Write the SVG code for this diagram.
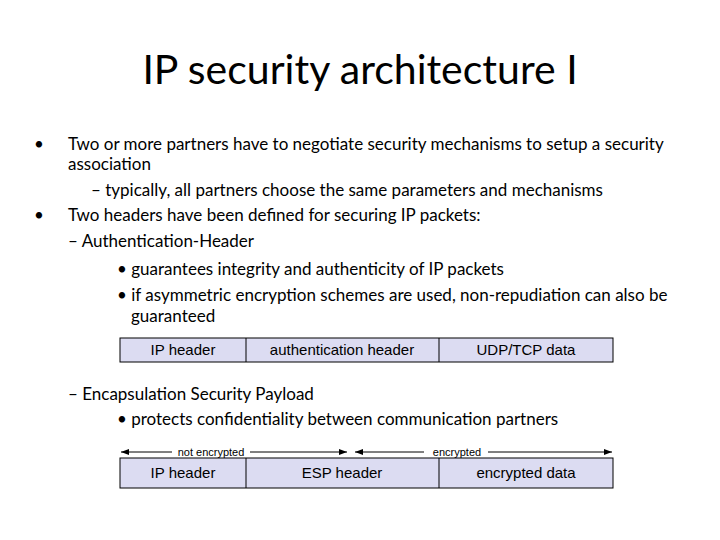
<svg xmlns="http://www.w3.org/2000/svg" width="720" height="540" viewBox="0 0 720 540">
<style>
.t{font-family:Lato,"Open Sans",sans-serif;font-size:17px;fill:#000}
.b{font-family:"Liberation Sans",Arial,sans-serif;font-size:15px;fill:#000}
.s{font-family:"Liberation Sans",Arial,sans-serif;font-size:11px;fill:#000}
.box{fill:#dcdcf2;stroke:#000;stroke-width:1}
.ln{stroke:#000;stroke-width:1;fill:none}
</style>
<defs><marker id="a" markerWidth="8" markerHeight="6" refX="8" refY="3" orient="auto-start-reverse"><path d="M0,0L8,3L0,6z" fill="#000"/></marker></defs>
<rect width="720" height="540" fill="#fff"/>
<text x="360" y="84" text-anchor="middle" font-family="Lato,'Open Sans',sans-serif" font-size="41">IP security architecture I</text>
<g id="text">
<text class="t" x="34" y="150">•</text>
<text class="t" x="68" y="150">Two or more partners have to negotiate security mechanisms to setup a security</text>
<text class="t" x="68" y="170">association</text>
<text class="t" x="91" y="196">– typically, all partners choose the same parameters and mechanisms</text>
<text class="t" x="34" y="221">•</text>
<text class="t" x="68" y="221">Two headers have been defined for securing IP packets:</text>
<text class="t" x="68" y="247">– Authentication-Header</text>
<text class="t" x="117" y="275">• guarantees integrity and authenticity of IP packets</text>
<text class="t" x="117" y="301">• if asymmetric encryption schemes are used, non-repudiation can also be</text>
<text class="t" x="131" y="322">guaranteed</text>
<text class="t" x="68" y="400">– Encapsulation Security Payload</text>
<text class="t" x="117" y="425">• protects confidentiality between communication partners</text>
</g>
<g id="ah-packet">
<rect class="box" x="120" y="338" width="493" height="24"/>
<line class="ln" x1="246" y1="338" x2="246" y2="362"/>
<line class="ln" x1="439" y1="338" x2="439" y2="362"/>
<text class="b" x="183" y="355" text-anchor="middle">IP header</text>
<text class="b" x="342" y="355" text-anchor="middle">authentication header</text>
<text class="b" x="526" y="355" text-anchor="middle">UDP/TCP data</text>
</g>
<g id="connectors">
<line class="ln" x1="121" y1="452" x2="172" y2="452" marker-start="url(#a)"/>
<line class="ln" x1="250" y1="452" x2="347" y2="452" marker-end="url(#a)"/>
<line class="ln" x1="355" y1="452" x2="424" y2="452" marker-start="url(#a)"/>
<line class="ln" x1="488" y1="452" x2="612" y2="452" marker-end="url(#a)"/>
</g>
<text class="s" x="211" y="456" text-anchor="middle">not encrypted</text>
<text class="s" x="457" y="456" text-anchor="middle">encrypted</text>
<g id="esp-packet">
<rect class="box" x="120" y="458" width="493" height="30"/>
<line class="ln" x1="246" y1="458" x2="246" y2="488"/>
<line class="ln" x1="439" y1="458" x2="439" y2="488"/>
<text class="b" x="183" y="478" text-anchor="middle">IP header</text>
<text class="b" x="342" y="478" text-anchor="middle">ESP header</text>
<text class="b" x="526" y="478" text-anchor="middle">encrypted data</text>
</g>
</svg>
